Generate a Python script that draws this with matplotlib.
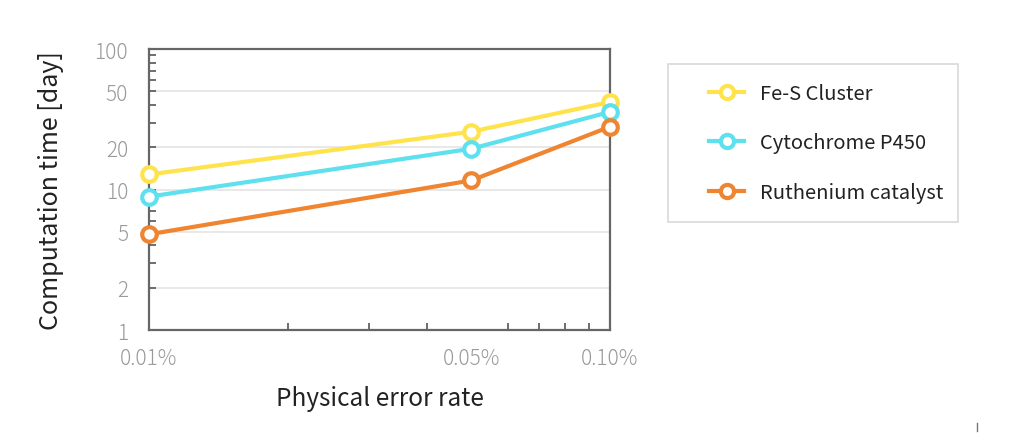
import matplotlib
matplotlib.use("Agg")
import matplotlib.pyplot as plt
from matplotlib.ticker import FixedLocator, NullFormatter
from matplotlib.lines import Line2D
from matplotlib.patches import Rectangle

plt.rcParams['font.family'] = ['Noto Sans CJK JP', 'DejaVu Sans']

error_rate = [0.01, 0.05, 0.1]
x_labels = ["0.01%", "0.05%", "0.10%"]
fes_cluster = [12.8, 25.8, 42.0]
cytochrome = [8.9, 19.5, 35.7]
ruthenium = [4.8, 11.6, 28.0]
names = ["Fe-S Cluster", "Cytochrome P450", "Ruthenium catalyst"]
colors = ["#FFE34C", "#5FE0EE", "#EF8530"]
y_ticks = [1, 2, 5, 10, 20, 50, 100]

fig = plt.figure(figsize=(10.24, 4.39), dpi=100)
ax = fig.add_axes([0.1455, 0.246, 0.4502, 0.640])

for vals, name, c in zip([fes_cluster, cytochrome, ruthenium], names, colors):
    ax.plot(error_rate, vals, color=c, lw=3, marker='o', ms=10.5,
            mfc='white', mec=c, mew=3, label=name, zorder=3, clip_on=False)

ax.set_xscale('log')
ax.set_yscale('log')
ax.set_xlim(0.01, 0.1)
ax.set_ylim(1, 100)

ax.xaxis.set_major_locator(FixedLocator(error_rate))
ax.set_xticklabels(x_labels)
ax.xaxis.set_minor_locator(FixedLocator([0.02, 0.03, 0.04, 0.06, 0.07, 0.08, 0.09]))
ax.xaxis.set_minor_formatter(NullFormatter())

ax.yaxis.set_major_locator(FixedLocator(y_ticks))
ax.set_yticklabels([str(v) for v in y_ticks])
minor_y = [3, 4, 6, 7, 8, 9, 30, 40, 60, 70, 80, 90]
ax.yaxis.set_minor_locator(FixedLocator(minor_y))
ax.yaxis.set_minor_formatter(NullFormatter())

for yv in y_ticks[1:-1]:
    ax.axhline(yv, color='#E4E4E4', lw=1.2, zorder=1)

ax.tick_params(axis='both', which='both', direction='in', color='#555555')
ax.tick_params(axis='both', which='major', length=5, width=1.2,
               labelsize=15, labelcolor='#9A9A9A')
ax.tick_params(axis='both', which='minor', length=5, width=1.2)
ax.tick_params(axis='x', which='major', pad=12, length=0)
ax.tick_params(axis='y', which='major', pad=15)
for lab in ax.get_xticklabels() + ax.get_yticklabels():
    lab.set_fontweight('light')
for s in ax.spines.values():
    s.set_color('#666666')
    s.set_linewidth(1.6)

ax.set_xlabel("Physical error rate", fontsize=17.5, color='#222222', labelpad=12)
ax.set_ylabel("Computation time [day]", fontsize=18, color='#222222', labelpad=22)

# legend frame drawn separately so the entries can sit indented inside it
fig.add_artist(Rectangle((668/1024, 1 - 223/439), 290/1024, 158/439,
                         transform=fig.transFigure, fill=False,
                         edgecolor='#D9D9D9', lw=1.2))
handles = [Line2D([0], [0], color=c, lw=3, marker='o', ms=9.5, mfc='white',
                  mec=c, mew=3) for c in colors]
leg = fig.legend(handles, names, loc='center left',
                 bbox_to_anchor=(709/1024, 1 - 144/439),
                 fontsize=14.5, frameon=False, handlelength=1.75,
                 labelspacing=1.4, borderpad=0, borderaxespad=0,
                 handletextpad=0.8)
for t in leg.get_texts():
    t.set_color('#222222')

fig.add_artist(Line2D([977/1024, 977/1024], [1 - 424/439, 1 - 432/439],
                      color='#777777', lw=1))

fig.savefig("out.png", dpi=100)
